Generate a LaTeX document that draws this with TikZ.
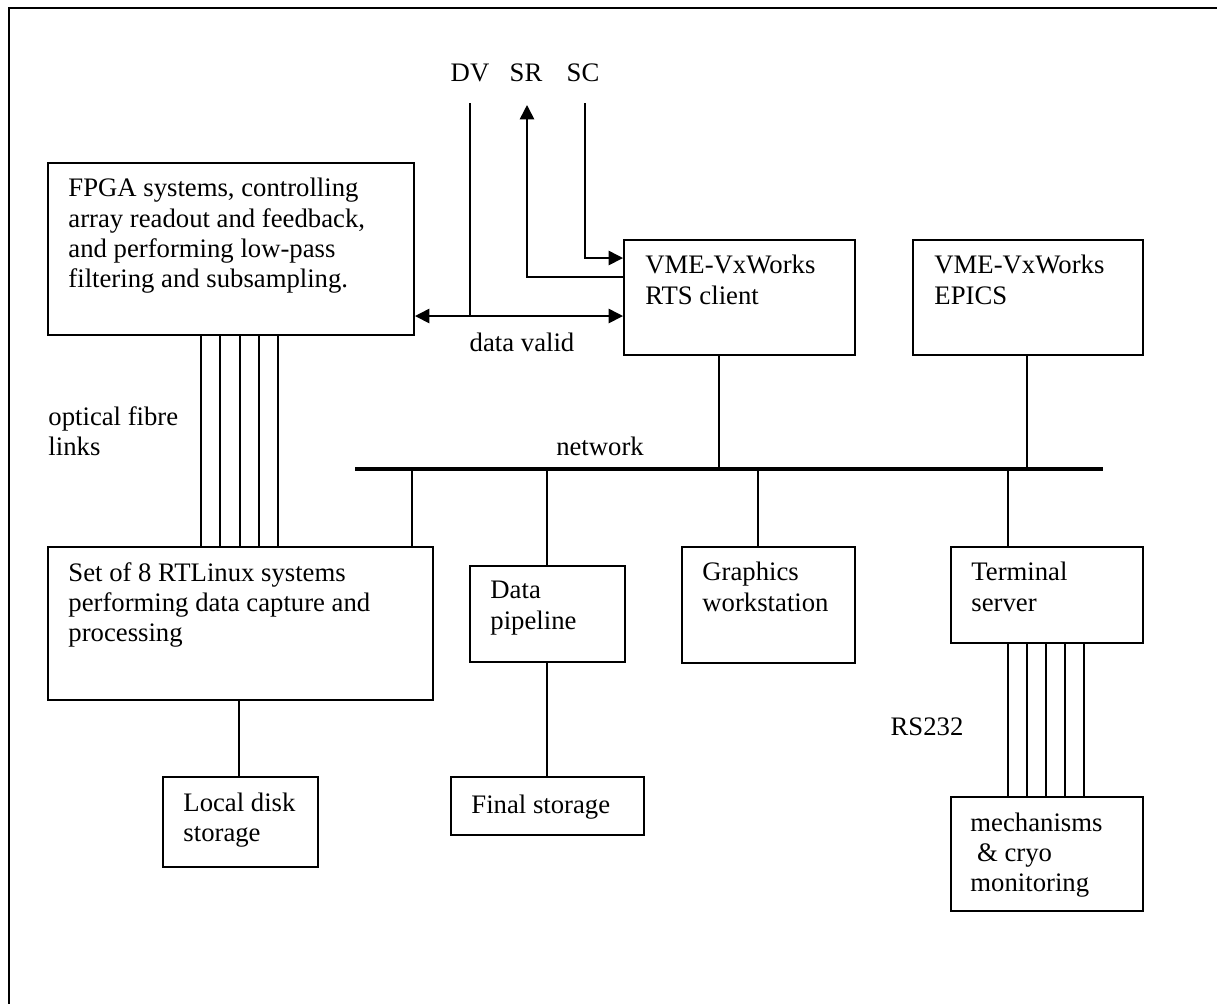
\documentclass[tikz,border=0pt]{standalone}
\usepackage{fontspec}
\setmainfont{Liberation Serif}
\usetikzlibrary{arrows.meta, positioning}
\newcommand{\un}{0.0158cm}
\tikzset{
box/.style 2 args={draw, line width=0.9pt, anchor=north west, inner sep=0pt,
  minimum width=#1*\un, minimum height=#2*\un}, % boxes given in pixels
txt/.style={anchor=north west, inner sep=0pt, align=left},
link/.style={line width=0.75pt},
bus/.style={line width=2.2pt},
sig/.style={line width=0.75pt, -{Triangle[length=6.5pt, width=6.5pt]}},
}

\begin{document}
\begin{tikzpicture}[x=\un, y=-\un, font=\fontsize{12}{13.6}\selectfont]
    \useasboundingbox (0,0) rectangle (1217,1003);
    \clip (0,0) rectangle (1217,1003);
    % frame
    \draw[line width=1.2pt] (9,1100) |- (1300,8);

    % boxes
    \node[box={366}{172}] (fpga) at (47,162) {};
    \node[box={231}{115}] (rts) at (623,239) {};
    \node[box={230}{115}] (epics) at (912,239) {};
    \node[box={385}{153}] (rtl) at (47,546) {};
    \node[box={155}{96}] (pipe) at (469,565) {};
    \node[box={173}{116}] (gfx) at (681,546) {};
    \node[box={192}{96}] (term) at (950,546) {};
    \node[box={155}{90}] (disk) at (162,776) {};
    \node[box={193}{58}] (store) at (450,776) {};
    \node[box={192}{114}] (mech) at (950,796) {};

    % box texts
    \node[txt] (fpgatxt) at ([shift={(21,16)}]fpga.north west)
        {FPGA systems, controlling\\array readout and feedback,\\and performing low-pass\\filtering and subsampling.};
    \node[txt] (rtstxt) at ([shift={(22,16)}]rts.north west) {VME-VxWorks\\RTS client};
    \node[txt] (epicstxt) at ([shift={(22,16)}]epics.north west) {VME-VxWorks\\EPICS};
    \node[txt] (rtltxt) at ([shift={(21,16)}]rtl.north west)
        {Set of 8 RTLinux systems\\performing data capture and\\processing};
    \node[txt] (pipetxt) at ([shift={(21,16)}]pipe.north west) {Data\\pipeline};
    \node[txt] (gfxtxt) at ([shift={(21,16)}]gfx.north west) {Graphics\\workstation};
    \node[txt] (termtxt) at ([shift={(21,16)}]term.north west) {Terminal\\server};
    \node[txt] (disktxt) at ([shift={(21,16)}]disk.north west) {Local disk\\storage};
    \node[txt] (storetxt) at ([shift={(21,18)}]store.north west) {Final storage};
    \node[txt] (mechtxt) at ([shift={(20,16)}]mech.north west) {mechanisms\\\ \& cryo\\monitoring};

    % free labels
    \node (dv) at (470,73) {DV};
    \node (sr) at (526,73) {SR};
    \node (sc) at (583,73) {SC};
    \node (valid) at (522,342) {data valid};
    \node (net) at (600,446) {network};
    \node[txt] (fibre) at (48,406) {optical fibre\\links};
    \node (rs) at (927,727) {RS232};

    % signal lines to the RTS client
    \coordinate (dvtop) at (470,103);
    \coordinate (dvjoin) at (470,316);
    \coordinate (srtop) at (527,105);
    \coordinate (sctop) at (585,103);
    \draw[link] (dvtop) -- (dvjoin);
    \draw[sig, {Triangle[length=6.5pt, width=6.5pt]}-{Triangle[length=6.5pt, width=6.5pt]}]
        (fpga.east |- dvjoin) -- (rts.west |- dvjoin);
    \draw[sig] (rts.west |- 0,277) -| (srtop);
    \draw[sig] (sctop) |- (rts.west |- 0,258);

    % network
    \coordinate (busL) at (355,469);
    \coordinate (busR) at (1103,469);
    \draw[bus] (busL) -- (busR);
    \foreach \tap/\blk in {719/rts, 1027/epics}
        \draw[link] (\tap,0 |- busL) -- (\tap,0 |- \blk.south);
    \foreach \tap/\blk in {412/rtl, 547/pipe, 758/gfx, 1008/term}
        \draw[link] (\tap,0 |- busL) -- (\tap,0 |- \blk.north);

    % storage
    \draw[link] (239,0 |- rtl.south) -- (239,0 |- disk.north);
    \draw[link] (pipe.south -| 547,0) -- (store.north -| 547,0);

    % fibre and serial bundles
    \foreach \x in {201,220,240,259,278}
        \draw[link] (\x,0 |- fpga.south) -- (\x,0 |- rtl.north);
    \foreach \x in {1008,1027,1046,1065,1084}
        \draw[link] (\x,0 |- term.south) -- (\x,0 |- mech.north);
\end{tikzpicture}
\end{document}
